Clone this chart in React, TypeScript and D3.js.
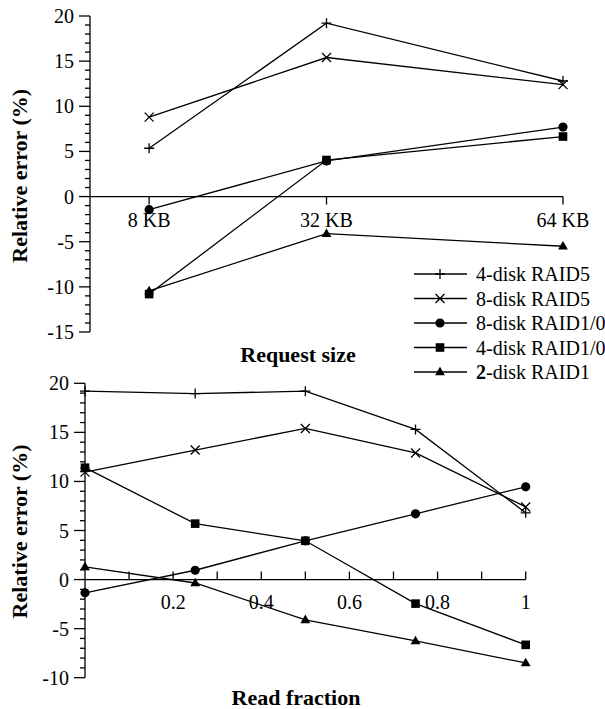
import React, { useEffect, useRef } from 'react';
import * as d3 from 'd3';

// series names and marker shapes
const seriesNames = ['4-disk RAID5', '8-disk RAID5', '8-disk RAID1/0', '4-disk RAID1/0', '2-disk RAID1'];
const seriesShapes = ['plus', 'cross', 'circle', 'square', 'triangle'];

// top panel: request size (KB)
const requestSizes = [8, 32, 64];
const requestLabels = ['8 KB', '32 KB', '64 KB'];
const raid5x4Req = [5.35, 19.2, 12.8];
const raid5x8Req = [8.8, 15.4, 12.4];
const raid10x8Req = [-1.45, 3.95, 7.7];
const raid10x4Req = [-10.8, 4.05, 6.65];
const raid1x2Req = [-10.45, -4.1, -5.5];

// bottom panel: read fraction
const readFractions = [0, 0.25, 0.5, 0.75, 1];
const raid5x4Read = [19.2, 18.95, 19.2, 15.3, 6.8];
const raid5x8Read = [10.95, 13.2, 15.4, 12.9, 7.4];
const raid10x8Read = [-1.35, 0.95, 3.95, 6.7, 9.45];
const raid10x4Read = [11.4, 5.7, 3.95, -2.45, -6.65];
const raid1x2Read = [1.3, -0.35, -4.1, -6.25, -8.5];

const topYTicks = [20, 15, 10, 5, 0, -5, -10, -15];
const bottomYTicks = [20, 15, 10, 5, 0, -5, -10];
const bottomXLabels = [0.2, 0.4, 0.6, 0.8, 1];

const FONT = "'Liberation Serif', 'Times New Roman', Times, serif";
const TICK_SIZE = '20px';
const TITLE_SIZE = '22px';

const App: React.FC = () => {
  const svgRef = useRef<SVGSVGElement>(null);

  useEffect(() => {
    if (!svgRef.current) return;
    const svg = d3.select(svgRef.current);
    svg.selectAll('*').remove();

    const drawMarker = (g: any, shape: string, x: number, y: number) => {
      if (shape === 'plus') {
        g.append('path')
          .attr('d', `M${x - 5},${y}H${x + 5}M${x},${y - 5}V${y + 5}`)
          .attr('stroke', '#000').attr('stroke-width', 1.3);
      } else if (shape === 'cross') {
        g.append('path')
          .attr('d', `M${x - 4.5},${y - 4.5}L${x + 4.5},${y + 4.5}M${x - 4.5},${y + 4.5}L${x + 4.5},${y - 4.5}`)
          .attr('stroke', '#000').attr('stroke-width', 1.3);
      } else if (shape === 'circle') {
        g.append('circle').attr('cx', x).attr('cy', y).attr('r', 4.6).attr('fill', '#000');
      } else if (shape === 'square') {
        g.append('rect').attr('x', x - 4.3).attr('y', y - 4.3)
          .attr('width', 8.6).attr('height', 8.6).attr('fill', '#000');
      } else {
        g.append('path')
          .attr('d', d3.symbol().type(d3.symbolTriangle).size(42)())
          .attr('transform', `translate(${x},${y + 0.5})`)
          .attr('fill', '#000');
      }
    };

    const label = (g: any) => g.append('text').style('font-family', FONT).attr('fill', '#000');

    const yAxisTicks = (g: any, yScale: any, ax: number, lo: number, hi: number, majors: number[]) => {
      g.append('line').attr('x1', ax).attr('x2', ax)
        .attr('y1', yScale(hi)).attr('y2', yScale(lo))
        .attr('stroke', '#000').attr('stroke-width', 1.3);
      d3.range(lo, hi + 1).forEach(v => {
        const major = v % 5 === 0;
        g.append('line')
          .attr('x1', ax - (major ? 11 : 5)).attr('x2', ax)
          .attr('y1', yScale(v)).attr('y2', yScale(v))
          .attr('stroke', '#000').attr('stroke-width', 1.3);
      });
      majors.forEach(v => {
        label(g)
          .attr('x', ax - 16).attr('y', yScale(v) + 7)
          .attr('text-anchor', 'end')
          .style('font-size', TICK_SIZE)
          .text(v);
      });
    };

    const drawSeries = (g: any, xs: number[], ys: number[], xScale: any, yScale: any, shape: string) => {
      const pts = xs.map((x, i) => [xScale(x), yScale(ys[i])] as [number, number]);
      g.append('path')
        .attr('d', d3.line()(pts))
        .attr('fill', 'none')
        .attr('stroke', '#000')
        .attr('stroke-width', 1.3);
      pts.forEach(p => drawMarker(g, shape, p[0], p[1]));
    };

    const root = svg.append('g');

    // ---------- top panel ----------
    const topX = d3.scaleLinear().domain([0, 64]).range([90, 563]);
    const topY = d3.scaleLinear().domain([-15, 20]).range([332, 16]);
    const top = root.append('g');

    yAxisTicks(top, topY, 90, -15, 20, topYTicks);

    top.append('line').attr('x1', topX(0)).attr('x2', topX(64))
      .attr('y1', topY(0)).attr('y2', topY(0))
      .attr('stroke', '#000').attr('stroke-width', 1.3);
    requestSizes.forEach((s, i) => {
      top.append('line').attr('x1', topX(s)).attr('x2', topX(s))
        .attr('y1', topY(0)).attr('y2', topY(0) + 8)
        .attr('stroke', '#000').attr('stroke-width', 1.3);
      label(top).attr('x', topX(s)).attr('y', topY(0) + 30)
        .attr('text-anchor', 'middle').style('font-size', TICK_SIZE)
        .text(requestLabels[i]);
    });

    const reqData = [raid5x4Req, raid5x8Req, raid10x8Req, raid10x4Req, raid1x2Req];
    reqData.forEach((ys, i) => drawSeries(top, requestSizes, ys, topX, topY, seriesShapes[i]));

    label(top)
      .attr('transform', `translate(27, ${topY(2.3)}) rotate(-90)`)
      .attr('text-anchor', 'middle').style('font-size', TITLE_SIZE).style('font-weight', 'bold')
      .text('Relative error (%)');

    label(top).attr('x', 298).attr('y', 362)
      .attr('text-anchor', 'middle').style('font-size', TITLE_SIZE).style('font-weight', 'bold')
      .text('Request size');

    // legend
    const legend = root.append('g');
    seriesNames.forEach((name, i) => {
      const y = 274 + i * 24.5;
      legend.append('line').attr('x1', 414).attr('x2', 467).attr('y1', y).attr('y2', y)
        .attr('stroke', '#000').attr('stroke-width', 1.3);
      drawMarker(legend, seriesShapes[i], 440, y);
      const t = label(legend).attr('x', 476).attr('y', y + 7).style('font-size', TICK_SIZE);
      if (i === 4) {
        t.append('tspan').style('font-weight', 'bold').text(name.slice(0, 1));
        t.append('tspan').text(name.slice(1));
      } else {
        t.text(name);
      }
    });

    // ---------- bottom panel ----------
    const botX = d3.scaleLinear().domain([0, 1]).range([85, 525.7]);
    const botY = d3.scaleLinear().domain([-10, 20]).range([677.7, 383.3]);
    const bot = root.append('g');

    yAxisTicks(bot, botY, 85, -10, 20, bottomYTicks);

    bot.append('line').attr('x1', botX(0)).attr('x2', botX(1))
      .attr('y1', botY(0)).attr('y2', botY(0))
      .attr('stroke', '#000').attr('stroke-width', 1.3);
    d3.range(1, 11).forEach(k => {
      const v = k / 10;
      bot.append('line').attr('x1', botX(v)).attr('x2', botX(v))
        .attr('y1', botY(0)).attr('y2', botY(0) - 8)
        .attr('stroke', '#000').attr('stroke-width', 1.3);
    });
    bottomXLabels.forEach(v => {
      label(bot).attr('x', botX(v)).attr('y', botY(0) + 29)
        .attr('text-anchor', 'middle').style('font-size', TICK_SIZE)
        .text(d3.format('~g')(v));
    });

    const readData = [raid5x4Read, raid5x8Read, raid10x8Read, raid10x4Read, raid1x2Read];
    readData.forEach((ys, i) => drawSeries(bot, readFractions, ys, botX, botY, seriesShapes[i]));

    label(bot)
      .attr('transform', `translate(27, ${botY(4.9)}) rotate(-90)`)
      .attr('text-anchor', 'middle').style('font-size', TITLE_SIZE).style('font-weight', 'bold')
      .text('Relative error (%)');

    label(bot).attr('x', 296).attr('y', 705)
      .attr('text-anchor', 'middle').style('font-size', TITLE_SIZE).style('font-weight', 'bold')
      .text('Read fraction');
  }, []);

  return (
    <svg
      ref={svgRef}
      width={605}
      height={709}
      style={{ position: 'absolute', left: 0, top: 0, background: '#fff' }}
    />
  );
};

export default App;
